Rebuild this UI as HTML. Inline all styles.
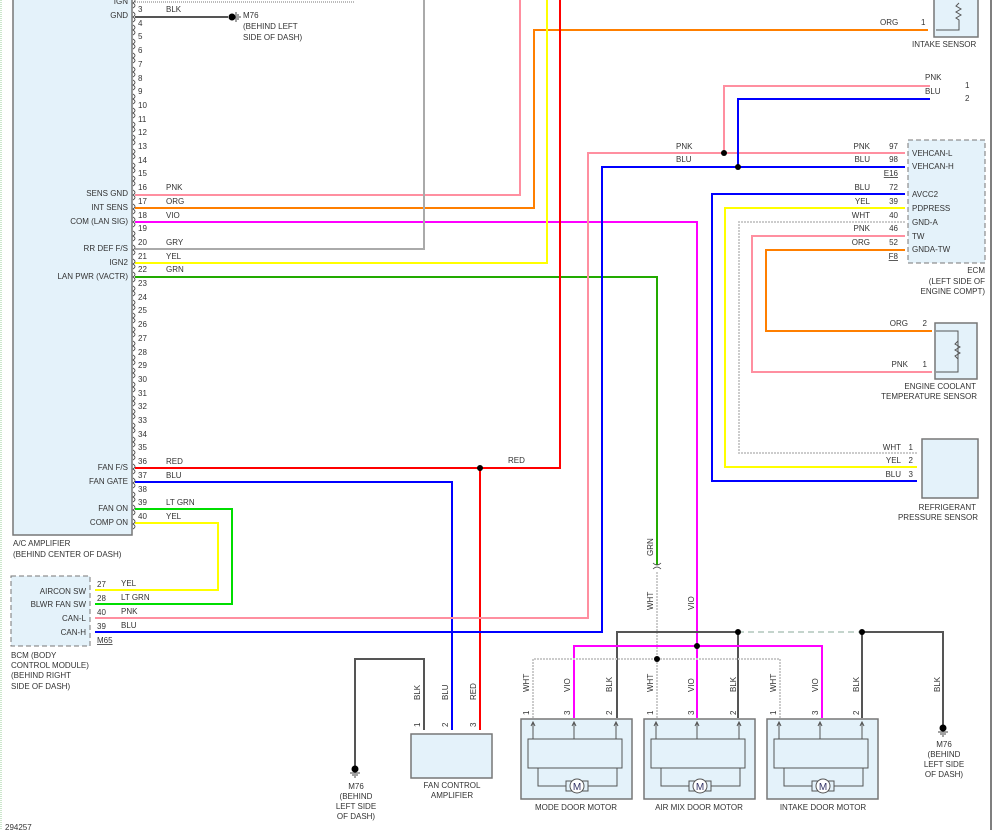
<!DOCTYPE html>
<html><head><meta charset="utf-8"><style>
body{margin:0;background:#fff}
svg{display:block}
text{font-family:"Liberation Sans",sans-serif;font-size:8px;fill:#333}
.r{text-anchor:end}.m{text-anchor:middle}
.box{fill:#e4f2fa;stroke:#777;stroke-width:1.5}
.w{fill:none;stroke-width:2}
</style></head><body>
<svg width="995" height="830" viewBox="0 0 995 830" xmlns="http://www.w3.org/2000/svg">
<defs>
<path id="b" d="M133,-5 q4,2.5 0,5 q4,2.5 0,5" fill="none" stroke="#444" stroke-width="0.8"/>
<path id="cl" d="M0,0 q-4,-3 -4,-1 v2 q0,2 4,-1 M0,0" fill="none" stroke="#444" stroke-width="0.8"/>
<g id="gnd"><circle cx="0" cy="0" r="3.5" fill="#000"/><path d="M-5,4h10M-3,6h6M-1,8h2" stroke="#444" stroke-width="1"/></g>
<g id="mot"><rect x="0" y="0" width="111" height="80" class="box"/><rect x="7" y="20" width="94" height="29" fill="none" stroke="#555"/>
<path d="M12,3v17M53,3v17M95,3v17M10,7l2,-4l2,4M51,7l2,-4l2,4M93,7l2,-4l2,4M17,49v18h79v-18" fill="none" stroke="#555"/>
<rect x="45" y="62" width="22" height="10" fill="#e4f2fa" stroke="#555"/><circle cx="56" cy="67" r="7" fill="#fff" stroke="#555"/><text x="56" y="71" class="m" style="font-size:10px;fill:#336">M</text></g>
</defs>
<line x1="1" y1="0" x2="1" y2="830" stroke="#9c9" stroke-dasharray="1,1"/>
<line x1="991" y1="0" x2="991" y2="830" stroke="#555" stroke-width="1.5"/>
<rect x="13" y="-5" width="119" height="540" class="box"/>
<g fill="none" stroke-width="2">
<path d="M135,2H355" stroke="#bbb" stroke-dasharray="1,1"/>
<path d="M135,17H228" stroke="#555"/>
<path d="M135,195H520V0" stroke="#ff8fa0"/>
<path d="M135,208H534V30H928" stroke="#ff7f00"/>
<path d="M135,222H697V646" stroke="#ff00ff"/>
<path d="M135,249H424V0" stroke="#aaa"/>
<path d="M135,263H547V0" stroke="#ffff00"/>
<path d="M135,277H657V565" stroke="#22aa00"/>
<path d="M657,572V660" stroke="#ccc" stroke-dasharray="2,1"/>
<path d="M135,468H560V0" stroke="#ff0000"/>
<path d="M480,468V730" stroke="#ff0000"/>
<path d="M135,482H452V730" stroke="#0000ff"/>
<path d="M135,509H232V604H95" stroke="#00dd00"/>
<path d="M135,523H218V590H95" stroke="#ffff00"/>
<path d="M95,618H588V153H905" stroke="#ff8fa0"/>
<path d="M724,153V86H930" stroke="#ff8fa0"/>
<path d="M95,632H602V167H905" stroke="#0000ff"/>
<path d="M738,167V99H930" stroke="#0000ff"/>
<path d="M905,194H712V481H917" stroke="#0000ff"/>
<path d="M905,208H725V467H917" stroke="#ffff00"/>
<path d="M905,222H739V453H917" stroke="#ccc" stroke-dasharray="2,1"/>
<path d="M905,236H752V372H932" stroke="#ff8fa0"/>
<path d="M905,250H766V331H932" stroke="#ff7f00"/>
<path d="M424,730V659H355V766" stroke="#555"/>
<path d="M617,718V632H738" stroke="#555"/>
<path d="M738,632H862" stroke="#8a9" stroke-dasharray="6,4" stroke-width="1"/>
<path d="M862,632H943V725" stroke="#555"/>
<path d="M738,632V718M862,632V718" stroke="#555"/>
<path d="M574,718V646H822V718M697,646V718" stroke="#ff00ff"/>
<path d="M533,718V659H780V718M657,659V718" stroke="#ccc" stroke-dasharray="2,1"/>
</g>
<g fill="#000"><circle cx="724" cy="153" r="3"/><circle cx="738" cy="167" r="3"/><circle cx="480" cy="468" r="3"/><circle cx="738" cy="632" r="3"/><circle cx="862" cy="632" r="3"/><circle cx="697" cy="646" r="3"/><circle cx="657" cy="659" r="3"/></g>
<path d="M653,563q4,4 8,0M653,569q4,-4 8,0" fill="none" stroke="#444" stroke-width="0.8"/>
<!-- amp connector marks -->
<g>
<use href="#b" y="3"/><use href="#b" y="17"/><use href="#b" y="30"/><use href="#b" y="44"/><use href="#b" y="58"/><use href="#b" y="72"/><use href="#b" y="85"/><use href="#b" y="99"/><use href="#b" y="113"/><use href="#b" y="127"/><use href="#b" y="140"/><use href="#b" y="154"/><use href="#b" y="168"/><use href="#b" y="181"/><use href="#b" y="195"/><use href="#b" y="209"/><use href="#b" y="222"/><use href="#b" y="236"/><use href="#b" y="250"/><use href="#b" y="264"/><use href="#b" y="277"/><use href="#b" y="291"/><use href="#b" y="305"/><use href="#b" y="318"/><use href="#b" y="332"/><use href="#b" y="346"/><use href="#b" y="360"/><use href="#b" y="373"/><use href="#b" y="387"/><use href="#b" y="401"/><use href="#b" y="414"/><use href="#b" y="428"/><use href="#b" y="442"/><use href="#b" y="455"/><use href="#b" y="469"/><use href="#b" y="483"/><use href="#b" y="497"/><use href="#b" y="510"/><use href="#b" y="524"/>
</g>
<g>
<text x="138" y="12">3</text><text x="138" y="26">4</text><text x="138" y="39">5</text><text x="138" y="53">6</text><text x="138" y="67">7</text><text x="138" y="81">8</text><text x="138" y="94">9</text><text x="138" y="108">10</text><text x="138" y="122">11</text><text x="138" y="135">12</text><text x="138" y="149">13</text><text x="138" y="163">14</text><text x="138" y="176">15</text><text x="138" y="190">16</text><text x="138" y="204">17</text><text x="138" y="218">18</text><text x="138" y="231">19</text><text x="138" y="245">20</text><text x="138" y="259">21</text><text x="138" y="272">22</text><text x="138" y="286">23</text><text x="138" y="300">24</text><text x="138" y="313">25</text><text x="138" y="327">26</text><text x="138" y="341">27</text><text x="138" y="355">28</text><text x="138" y="368">29</text><text x="138" y="382">30</text><text x="138" y="396">31</text><text x="138" y="409">32</text><text x="138" y="423">33</text><text x="138" y="437">34</text><text x="138" y="450">35</text><text x="138" y="464">36</text><text x="138" y="478">37</text><text x="138" y="492">38</text><text x="138" y="505">39</text><text x="138" y="519">40</text>
<text x="166" y="12">BLK</text><text x="166" y="190">PNK</text><text x="166" y="204">ORG</text><text x="166" y="218">VIO</text><text x="166" y="245">GRY</text><text x="166" y="259">YEL</text><text x="166" y="272">GRN</text><text x="166" y="464">RED</text><text x="166" y="478">BLU</text><text x="166" y="505">LT GRN</text><text x="166" y="519">YEL</text>
<text x="128" y="4" class="r">IGN</text><text x="128" y="18" class="r">GND</text><text x="128" y="196" class="r">SENS GND</text><text x="128" y="210" class="r">INT SENS</text><text x="128" y="224" class="r">COM (LAN SIG)</text><text x="128" y="251" class="r">RR DEF F/S</text><text x="128" y="265" class="r">IGN2</text><text x="128" y="279" class="r">LAN PWR (VACTR)</text><text x="128" y="470" class="r">FAN F/S</text><text x="128" y="484" class="r">FAN GATE</text><text x="128" y="511" class="r">FAN ON</text><text x="128" y="525" class="r">COMP ON</text>
<text x="13" y="546">A/C AMPLIFIER</text><text x="13" y="557">(BEHIND CENTER OF DASH)</text>
</g>
<use href="#gnd" transform="translate(232,17) rotate(-90)"/>
<text x="243" y="18">M76</text><text x="243" y="29">(BEHIND LEFT</text><text x="243" y="40">SIDE OF DASH)</text>
<!-- BCM -->
<rect x="11" y="576" width="79" height="70" fill="#e4f2fa" stroke="#777" stroke-dasharray="5,3"/>
<g><text x="86" y="594" class="r">AIRCON SW</text><text x="86" y="607" class="r">BLWR FAN SW</text><text x="86" y="621" class="r">CAN-L</text><text x="86" y="635" class="r">CAN-H</text>
<text x="97" y="587">27</text><text x="97" y="601">28</text><text x="97" y="615">40</text><text x="97" y="629">39</text>
<text x="121" y="586">YEL</text><text x="121" y="600">LT GRN</text><text x="121" y="614">PNK</text><text x="121" y="628">BLU</text>
<text x="97" y="643" style="text-decoration:underline">M65</text>
<text x="11" y="658">BCM (BODY</text><text x="11" y="668">CONTROL MODULE)</text><text x="11" y="678">(BEHIND RIGHT</text><text x="11" y="689">SIDE OF DASH)</text></g>
<text x="508" y="463">RED</text>
<!-- Intake sensor -->
<rect x="934" y="-3" width="44" height="40" class="box"/>
<path d="M936,30h23v-10l-3,-2 5,-3 -5,-3 5,-3 -5,-3 3,-3" fill="none" stroke="#555"/>
<text x="880" y="25">ORG</text><text x="921" y="25">1</text><text x="912" y="47">INTAKE SENSOR</text>
<text x="925" y="80">PNK</text><text x="965" y="88">1</text><text x="925" y="94">BLU</text><text x="965" y="101">2</text>
<text x="676" y="149">PNK</text><text x="676" y="162">BLU</text>
<!-- ECM -->
<rect x="908" y="140" width="77" height="123" fill="#e4f2fa" stroke="#777" stroke-dasharray="5,3"/>
<g><text x="912" y="156">VEHCAN-L</text><text x="912" y="169">VEHCAN-H</text><text x="912" y="197">AVCC2</text><text x="912" y="211">PDPRESS</text><text x="912" y="225">GND-A</text><text x="912" y="239">TW</text><text x="912" y="252">GNDA-TW</text>
<text x="898" y="149" class="r">97</text><text x="898" y="162" class="r">98</text><text x="898" y="176" class="r" style="text-decoration:underline">E16</text><text x="898" y="190" class="r">72</text><text x="898" y="204" class="r">39</text><text x="898" y="218" class="r">40</text><text x="898" y="231" class="r">46</text><text x="898" y="245" class="r">52</text><text x="898" y="259" class="r" style="text-decoration:underline">F8</text>
<text x="870" y="149" class="r">PNK</text><text x="870" y="162" class="r">BLU</text><text x="870" y="190" class="r">BLU</text><text x="870" y="204" class="r">YEL</text><text x="870" y="218" class="r">WHT</text><text x="870" y="231" class="r">PNK</text><text x="870" y="245" class="r">ORG</text>
<text x="985" y="273" class="r">ECM</text><text x="985" y="284" class="r">(LEFT SIDE OF</text><text x="985" y="294" class="r">ENGINE COMPT)</text></g>
<!-- ECT -->
<rect x="935" y="323" width="42" height="56" class="box"/>
<path d="M936,331h22v41h-22M958,341l-3,3 5,3 -5,3 5,3 -5,3 3,3" fill="none" stroke="#555"/>
<text x="908" y="326" class="r">ORG</text><text x="927" y="326" class="r">2</text><text x="908" y="367" class="r">PNK</text><text x="927" y="367" class="r">1</text>
<text x="976" y="389" class="r">ENGINE COOLANT</text><text x="977" y="399" class="r">TEMPERATURE SENSOR</text>
<!-- Refrigerant -->
<rect x="922" y="439" width="56" height="59" class="box"/>
<text x="901" y="450" class="r">WHT</text><text x="913" y="450" class="r">1</text><text x="901" y="463" class="r">YEL</text><text x="913" y="463" class="r">2</text><text x="901" y="477" class="r">BLU</text><text x="913" y="477" class="r">3</text>
<text x="976" y="510" class="r">REFRIGERANT</text><text x="978" y="520" class="r">PRESSURE SENSOR</text>
<!-- vertical labels -->
<g>
<text transform="translate(653,556) rotate(-90)">GRN</text><text transform="translate(653,610) rotate(-90)">WHT</text><text transform="translate(694,610) rotate(-90)">VIO</text>
<text transform="translate(420,700) rotate(-90)">BLK</text><text transform="translate(448,700) rotate(-90)">BLU</text><text transform="translate(476,700) rotate(-90)">RED</text>
<text transform="translate(420,727) rotate(-90)">1</text><text transform="translate(448,727) rotate(-90)">2</text><text transform="translate(476,727) rotate(-90)">3</text>
<text transform="translate(529,692) rotate(-90)">WHT</text><text transform="translate(570,692) rotate(-90)">VIO</text><text transform="translate(612,692) rotate(-90)">BLK</text>
<text transform="translate(653,692) rotate(-90)">WHT</text><text transform="translate(694,692) rotate(-90)">VIO</text><text transform="translate(736,692) rotate(-90)">BLK</text>
<text transform="translate(776,692) rotate(-90)">WHT</text><text transform="translate(818,692) rotate(-90)">VIO</text><text transform="translate(859,692) rotate(-90)">BLK</text>
<text transform="translate(940,692) rotate(-90)">BLK</text>
<text transform="translate(529,715) rotate(-90)">1</text><text transform="translate(570,715) rotate(-90)">3</text><text transform="translate(612,715) rotate(-90)">2</text>
<text transform="translate(653,715) rotate(-90)">1</text><text transform="translate(694,715) rotate(-90)">3</text><text transform="translate(736,715) rotate(-90)">2</text>
<text transform="translate(776,715) rotate(-90)">1</text><text transform="translate(818,715) rotate(-90)">3</text><text transform="translate(859,715) rotate(-90)">2</text>
</g>
<!-- fan amp -->
<rect x="411" y="734" width="81" height="44" class="box"/>
<text x="452" y="788" class="m">FAN CONTROL</text><text x="452" y="798" class="m">AMPLIFIER</text>
<use href="#gnd" transform="translate(355,769)"/>
<text x="356" y="789" class="m">M76</text><text x="356" y="799" class="m">(BEHIND</text><text x="356" y="809" class="m">LEFT SIDE</text><text x="356" y="819" class="m">OF DASH)</text>
<use href="#gnd" transform="translate(943,728)"/>
<text x="944" y="747" class="m">M76</text><text x="944" y="757" class="m">(BEHIND</text><text x="944" y="767" class="m">LEFT SIDE</text><text x="944" y="777" class="m">OF DASH)</text>
<!-- motors -->
<use href="#mot" transform="translate(521,719)"/><use href="#mot" transform="translate(644,719)"/><use href="#mot" transform="translate(767,719)"/>
<text x="576" y="810" class="m">MODE DOOR MOTOR</text><text x="699" y="810" class="m">AIR MIX DOOR MOTOR</text><text x="823" y="810" class="m">INTAKE DOOR MOTOR</text>
<text x="5" y="830">294257</text>
</svg>
</body></html>
